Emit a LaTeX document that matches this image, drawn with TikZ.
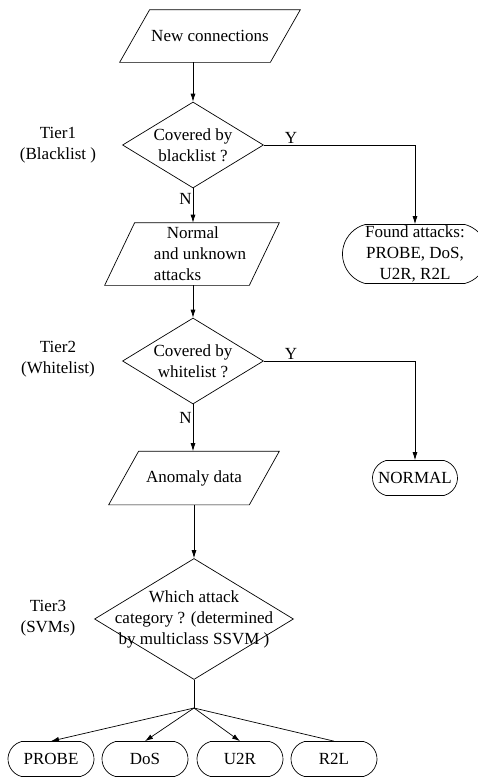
\documentclass[tikz,border=0pt]{standalone}
\usepackage{fontspec}
\setmainfont{Liberation Serif}
\usetikzlibrary{shapes.geometric, shapes.misc, arrows.meta, positioning, calc}

\begin{document}
\begin{tikzpicture}[
    x=1pt, y=-1pt, line width=0.7pt,
    every node/.style={font=\fontsize{17}{21}\selectfont},
    io/.style={rectangle, inner sep=0pt, align=center},
    decision/.style={draw, diamond, aspect=1.64, inner sep=0pt, align=center},
    terminal/.style={draw, rounded rectangle, rounded rectangle arc length=150, inner sep=0pt, align=center},
    tier/.style={align=center},
    arrow/.style={-{Latex[length=8pt, width=5pt]}}
]
    \useasboundingbox (0,0) rectangle (477,777);

    % Tier 1: blacklist
    \node (start) [io, minimum width=150pt, minimum height=52pt] at (210,36) {New connections};
    \node (black) [decision, minimum width=141pt, minimum height=86pt] at (193,145) {Covered by\\blacklist ?};
    \node (tier1) [tier] at (58,145) {Tier1\\(Blacklist )};
    \node (found) [terminal, minimum width=145pt, minimum height=59pt] at (415,254) {Found attacks:\\PROBE, DoS,\\U2R, R2L};
    \node (known) [io, minimum width=144pt, minimum height=62pt, align=left] at (192,254)
        {\hspace{29pt}Normal\\\hspace{16pt}and unknown\\\hspace{16pt}attacks};

    % Tier 2: whitelist
    \node (white) [decision, minimum width=141pt, minimum height=86pt] at (193,361) {Covered by\\whitelist ?};
    \node (tier2) [tier] at (58,359) {Tier2\\(Whitelist)};
    \node (normal) [terminal, minimum width=85pt, minimum height=35pt] at (415,478) {NORMAL};
    \node (anomaly) [io, minimum width=140pt, minimum height=53pt] at (194,478) {Anomaly data};

    % Tier 3: SVMs
    \node (svm) [decision, minimum width=199pt, minimum height=121pt] at (194,619)
        {\makebox[0pt]{\begin{tabular}{@{}c@{}}Which attack\\category ? (determined\\by multiclass SSVM )\end{tabular}}};
    \node (tier3) [tier] at (48,618) {Tier3\\(SVMs)};
    \foreach \name/\txt/\x in {probe/PROBE/51, dos/DoS/145, u2r/U2R/240, r2l/R2L/334} {
        \node (\name) [terminal, minimum width=86pt, minimum height=35pt] at (\x,759) {\txt};
    }

    % parallelogram outlines round the io nodes
    \foreach \n in {start, known, anomaly} {
        \draw ($(\n.south west)+(-15,0)$) -- ($(\n.north west)+(15,0)$)
           -- ($(\n.north east)+(15,0)$) -- ($(\n.south east)+(-15,0)$) -- cycle;
    }

    % Connections
    \draw[arrow] (start.south -| black.north) -- (black.north);
    \draw[arrow] (black.east) -| node[pos=0.09, above, inner sep=1pt] {Y} (found.north);
    \draw[arrow] (black.south) -- node[pos=0.3, left, inner sep=1pt] {N} (black.south |- known.north);
    \draw[arrow] (known.south -| white.north) -- (white.north);
    \draw[arrow] (white.east) -| node[pos=0.09, above, inner sep=1pt] {Y} (normal.north);
    \draw[arrow] (white.south) -- node[pos=0.3, left, inner sep=1pt] {N} (white.south |- anomaly.north);
    \draw[arrow] (anomaly.south -| svm.north) -- (svm.north);

    \coordinate (fork) at (194,708);
    \draw (svm.south) -- (fork);
    \foreach \name in {probe, dos, u2r} {
        \draw[arrow] (fork) -- (\name.north);
    }
    \draw (fork) -- (r2l.north);
\end{tikzpicture}
\end{document}
